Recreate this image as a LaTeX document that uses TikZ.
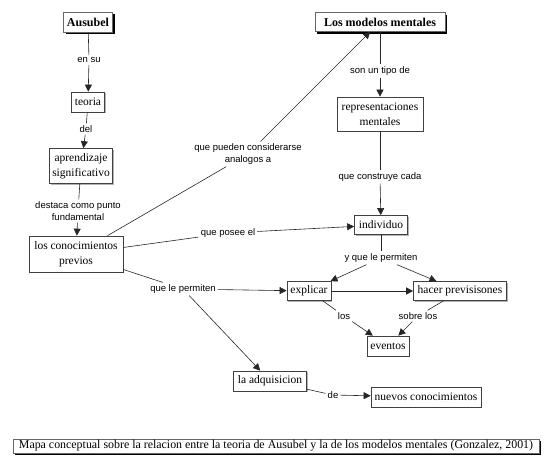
\documentclass[tikz,border=0pt]{standalone}
\usepackage{fontspec}
\setmainfont{Liberation Serif}
\newfontfamily\lblfont{Liberation Sans}
\usetikzlibrary{arrows.meta,shadows}
\tikzset{
  concept/.style={draw=black!75, fill=white, line width=0.7pt, inner sep=0pt, align=center,
    font=\fontsize{11.5}{15}\selectfont,
    general shadow={fill=black!30, shadow xshift=1pt, shadow yshift=-1pt}},
  mainconcept/.style={draw=black!60, fill=white, line width=0.6pt, inner sep=0pt, align=center,
    font=\fontsize{12}{15}\selectfont\bfseries,
    general shadow={fill=black, shadow xshift=2pt, shadow yshift=-2pt}},
  linklabel/.style={fill=white, inner sep=2pt, align=center,
    font=\lblfont\fontsize{9.5}{12}\selectfont},
  conn/.style={draw=black!85, line width=0.6pt},
  arr/.style={conn, -{Triangle[length=7pt,width=7pt]}},
}
\begin{document}
\begin{tikzpicture}[x=1pt,y=-1pt]
\useasboundingbox (0,0) rectangle (551,474);
% concepts
\node[mainconcept, minimum width=49pt, minimum height=20pt] (aus) at (88,22) {Ausubel};
\node[concept, minimum width=33pt, minimum height=20pt] (teo) at (88,102) {teoria};
\node[concept, minimum width=63pt, minimum height=35pt] (apr) at (81,166) {aprendizaje\\significativo};
\node[concept, minimum width=94pt, minimum height=36pt] (con) at (76,254) {los conocimientos\\previos};
\node[mainconcept, minimum width=130pt, minimum height=19pt] (lmm) at (380,22) {Los modelos mentales};
\node[concept, minimum width=86pt, minimum height=34pt] (rep) at (380,114) {representaciones\\mentales};
\node[concept, minimum width=53pt, minimum height=19pt] (ind) at (381,225) {individuo};
\node[concept, minimum width=44pt, minimum height=19pt] (exp) at (309,291) {explicar};
\node[concept, minimum width=93pt, minimum height=19pt] (hac) at (460,291) {hacer previsisones};
\node[concept, minimum width=42pt, minimum height=20pt] (eve) at (388,346) {eventos};
\node[concept, minimum width=73pt, minimum height=20pt] (adq) at (270,381) {la adquisicion};
\node[concept, minimum width=110pt, minimum height=20pt] (nue) at (426,397) {nuevos conocimientos};
\node[mainconcept, font=\fontsize{11.9}{15}\selectfont, minimum width=526pt, minimum height=14pt] (cap) at (276,446) {Mapa conceptual sobre la relacion entre la teoria de Ausubel y la de los modelos mentales (Gonzalez, 2001)};
% link labels
\node[linklabel] (l1) at (89,60) {en su};
\node[linklabel] (l2) at (86,129) {del};
\node[linklabel] (l3) at (78,211) {destaca como punto\\fundamental};
\node[linklabel] (l4) at (248,154) {que pueden considerarse\\analogos a};
\node[linklabel] (l5) at (380,71) {son un tipo de};
\node[linklabel] (l6) at (380,177) {que construye cada};
\node[linklabel] (l7) at (228,233) {que posee el};
\node[linklabel] (l8) at (381,258) {y que le permiten};
\node[linklabel] (l9) at (183,289) {que le permiten};
\node[linklabel] (l10) at (344,316) {los};
\node[linklabel] (l11) at (418,316) {sobre los};
\node[linklabel] (l12) at (333,395) {de};
% connectors
\draw[conn] (aus) -- (l1); \draw[arr] (l1) -- (teo);
\draw[conn] (teo) -- (l2); \draw[arr] (l2) -- (apr);
\draw[conn] (apr) -- (l3); \draw[arr] (l3) -- (con);
\draw[conn] (con) -- (l4); \draw[arr] (l4) -- (lmm);
\draw[conn] (lmm) -- (l5); \draw[arr] (l5) -- (rep);
\draw[conn] (rep) -- (l6); \draw[arr] (l6) -- (ind);
\draw[conn] (con) -- (l7); \draw[arr] (l7) -- (ind);
\draw[conn] (ind) -- (l8); \draw[arr] (l8) -- (exp); \draw[arr] (l8) -- (hac);
\draw[conn] (con) -- (l9); \draw[arr] (l9) -- (exp); \draw[arr] (l9) -- (adq);
\draw[arr] (exp) -- (hac);
\draw[conn] (exp) -- (l10); \draw[arr] (l10) -- (eve);
\draw[conn] (hac) -- (l11); \draw[arr] (l11) -- (eve);
\draw[conn] (adq) -- (l12); \draw[arr] (l12) -- (nue);
\end{tikzpicture}
\end{document}
